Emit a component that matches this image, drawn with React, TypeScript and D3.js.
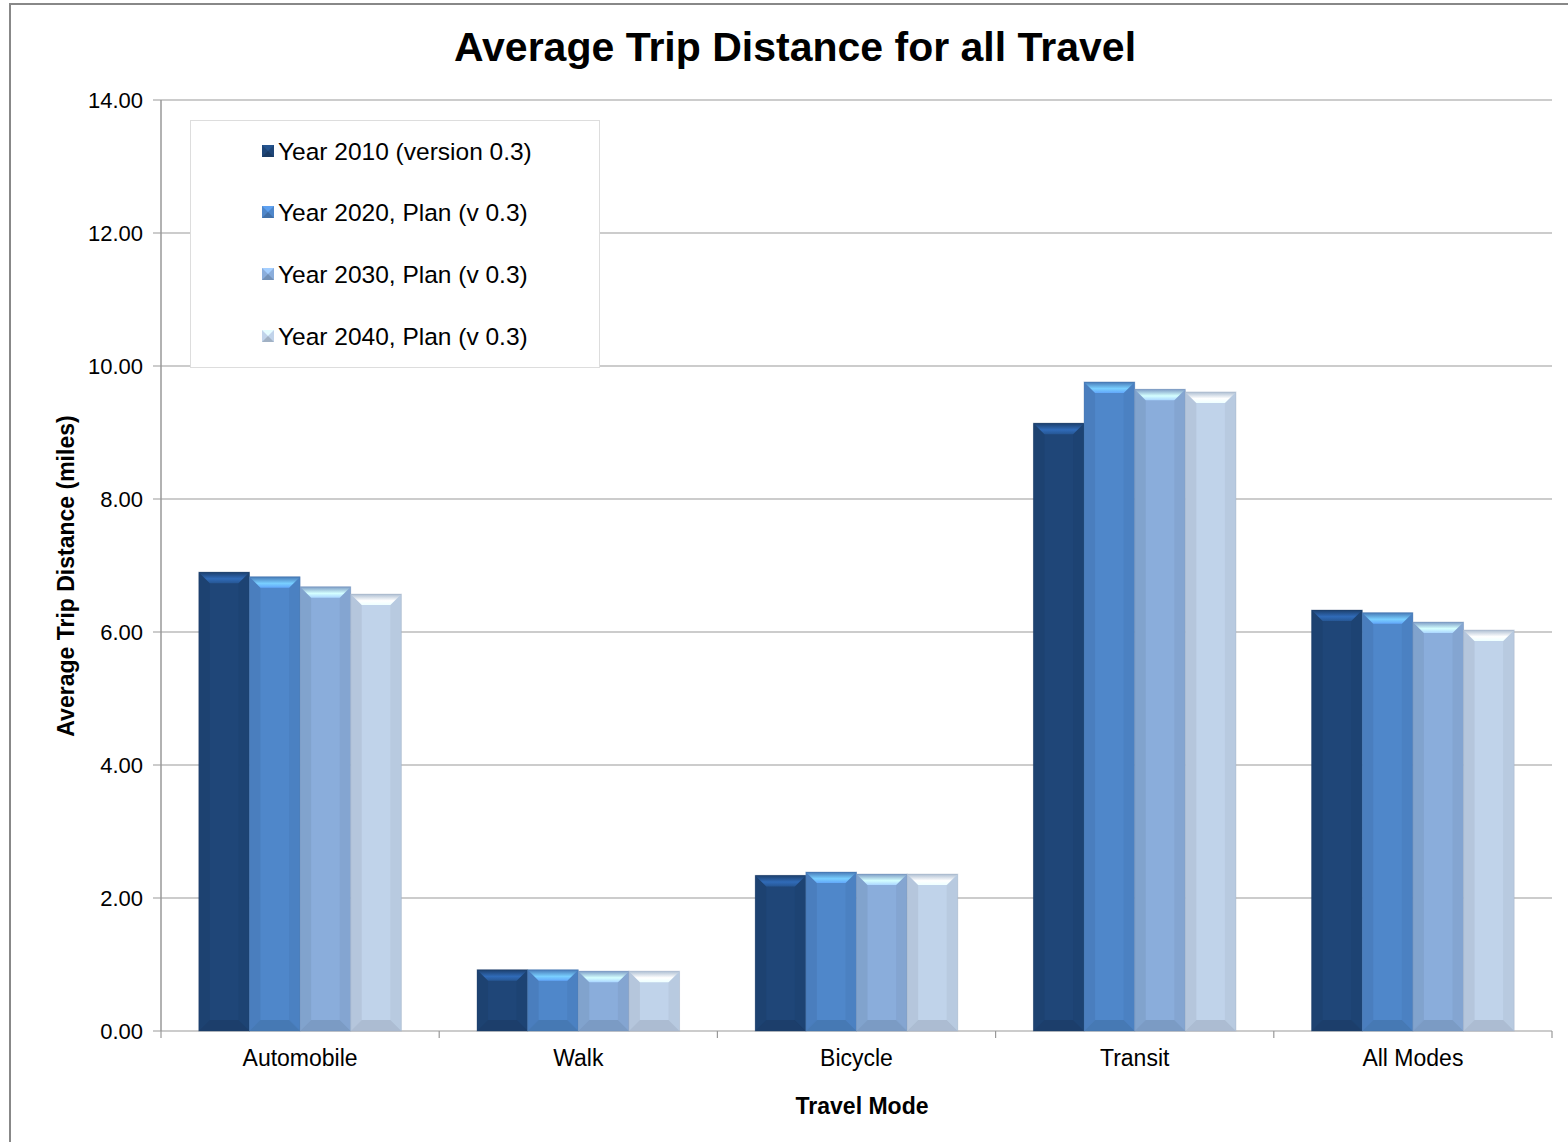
import React from "react";
import * as d3 from "d3";

const categories = ["Automobile", "Walk", "Bicycle", "Transit", "All Modes"];
const seriesNames = [
  "Year 2010 (version 0.3)",
  "Year 2020, Plan (v 0.3)",
  "Year 2030, Plan (v 0.3)",
  "Year 2040, Plan (v 0.3)",
];
const y2010 = [6.9, 0.92, 2.34, 9.14, 6.33];
const y2020 = [6.83, 0.92, 2.39, 9.76, 6.29];
const y2030 = [6.68, 0.9, 2.36, 9.65, 6.15];
const y2040 = [6.57, 0.9, 2.36, 9.61, 6.03];
const yTicks = [0, 2, 4, 6, 8, 10, 12, 14];

const seriesValues = [y2010, y2020, y2030, y2040];
const baseColors = ["#1f4678", "#4f87ca", "#8aaddb", "#c0d3ea"];

const W = 1568;
const H = 1142;
const M = { left: 161, right: 1552, top: 100, bottom: 1031 };
const FONT = "'Liberation Sans', Arial, sans-serif";

export default function App() {
  const x0 = d3.scaleBand<string>().domain(categories).range([M.left, M.right]).paddingInner(0).paddingOuter(0);
  const groupW = x0.bandwidth() * 0.728;
  const x1 = d3
    .scaleBand<number>()
    .domain(d3.range(seriesNames.length))
    .range([0, groupW]);
  const y = d3.scaleLinear().domain([0, 14]).range([M.bottom, M.top]);

  const bars: React.ReactNode[] = [];
  categories.forEach((c, ci) => {
    const gx = (x0(c) as number) + (x0.bandwidth() - groupW) / 2;
    seriesValues.forEach((vals, si) => {
      const v = vals[ci];
      const bx = gx + (x1(si) as number);
      const bw = x1.bandwidth();
      const by = y(v);
      const bh = y(0) - by;
      const b = Math.min(11, bh / 3);
      const base = d3.color(baseColors[si])!;
      const dark = base.darker(0.6).formatHex();
      const side = base.darker(0.25).formatHex();
      const x2 = bx + bw;
      const y2 = by + bh;
      bars.push(
        <g key={`${ci}-${si}`}>
          <rect x={bx} y={by} width={bw} height={bh} fill={baseColors[si]} />
          <polygon
            points={`${bx},${by} ${bx + b},${by + b} ${bx + b},${y2 - b} ${bx},${y2}`}
            fill={side}
            opacity={0.7}
          />
          <polygon
            points={`${x2},${by} ${x2 - b},${by + b} ${x2 - b},${y2 - b} ${x2},${y2}`}
            fill={side}
            opacity={0.5}
          />
          <polygon
            points={`${bx},${by} ${x2},${by} ${x2 - b},${by + b} ${bx + b},${by + b}`}
            fill={`url(#topgrad${si})`}
          />
          <polygon
            points={`${bx},${y2} ${x2},${y2} ${x2 - b},${y2 - b} ${bx + b},${y2 - b}`}
            fill={dark}
            opacity={0.55}
          />
          <rect x={bx} y={by} width={bw} height={bh} fill="none" stroke={dark} strokeOpacity={0.35} strokeWidth={1} />
          <title>{`${seriesNames[si]} - ${c}: ${v}`}</title>
        </g>
      );
    });
  });

  const legendY = [151, 212, 274, 336];

  return (
    <svg width={W} height={H} style={{ position: "absolute", left: 0, top: 0 }} fontFamily={FONT}>
      <defs>
        {baseColors.map((c, i) => {
          const base = d3.color(c)!;
          return (
            <linearGradient key={i} id={`topgrad${i}`} x1="0" y1="0" x2="0" y2="1">
              <stop offset="0%" stopColor={base.darker(0.3).formatHex()} />
              <stop offset="60%" stopColor={base.brighter(1.2).formatHex()} />
              <stop offset="100%" stopColor={base.brighter(0.6).formatHex()} />
            </linearGradient>
          );
        })}
      </defs>
      <rect x={0} y={0} width={W} height={H} fill="#fff" />
      <rect x={10} y={4} width={W + 10} height={H + 10} fill="#fff" stroke="#888" strokeWidth={2} />

      <text x={795} y={61} textAnchor="middle" fontSize={41} fontWeight="bold" fill="#000">
        Average Trip Distance for all Travel
      </text>

      {yTicks.map((t) => (
        <g key={t}>
          <line x1={M.left - 8} x2={M.right} y1={y(t)} y2={y(t)} stroke="#999" strokeWidth={1.2} />
          <text x={M.left - 18} y={y(t) + 8} textAnchor="end" fontSize={22} fill="#000">
            {t.toFixed(2)}
          </text>
        </g>
      ))}
      <line x1={M.left} x2={M.left} y1={M.top} y2={M.bottom} stroke="#999" strokeWidth={1.5} />

      {categories.map((c) => (
        <text key={c} x={(x0(c) as number) + x0.bandwidth() / 2} y={1066} textAnchor="middle" fontSize={23} fill="#000">
          {c}
        </text>
      ))}
      {categories.concat([""]).map((c, i) => {
        const xx = M.left + i * x0.step();
        return <line key={i} x1={xx} x2={xx} y1={M.bottom} y2={M.bottom + 7} stroke="#999" strokeWidth={1.2} />;
      })}

      {bars}

      <rect x={190.5} y={120.5} width={409} height={247} fill="#fff" stroke="#ddd" strokeWidth={1} />
      {seriesNames.map((s, i) => (
        <g key={s}>
          <rect x={262} y={legendY[i] - 6} width={12} height={12} fill={baseColors[i]} />
          <polygon
            points={`${262},${legendY[i] - 6} ${274},${legendY[i] - 6} ${268},${legendY[i]}`}
            fill={d3.color(baseColors[i])!.brighter(0.5).formatHex()}
          />
          <polygon
            points={`${262},${legendY[i] + 6} ${274},${legendY[i] + 6} ${268},${legendY[i]}`}
            fill={d3.color(baseColors[i])!.darker(0.5).formatHex()}
          />
          <text x={278} y={legendY[i] + 9} fontSize={24.5} fill="#000">
            {s}
          </text>
        </g>
      ))}

      <text
        transform={`translate(74, ${576}) rotate(-90)`}
        textAnchor="middle"
        fontSize={23}
        fontWeight="bold"
        fill="#000"
      >
        Average Trip Distance (miles)
      </text>
      <text x={862} y={1114} textAnchor="middle" fontSize={23} fontWeight="bold" fill="#000">
        Travel Mode
      </text>
    </svg>
  );
}
